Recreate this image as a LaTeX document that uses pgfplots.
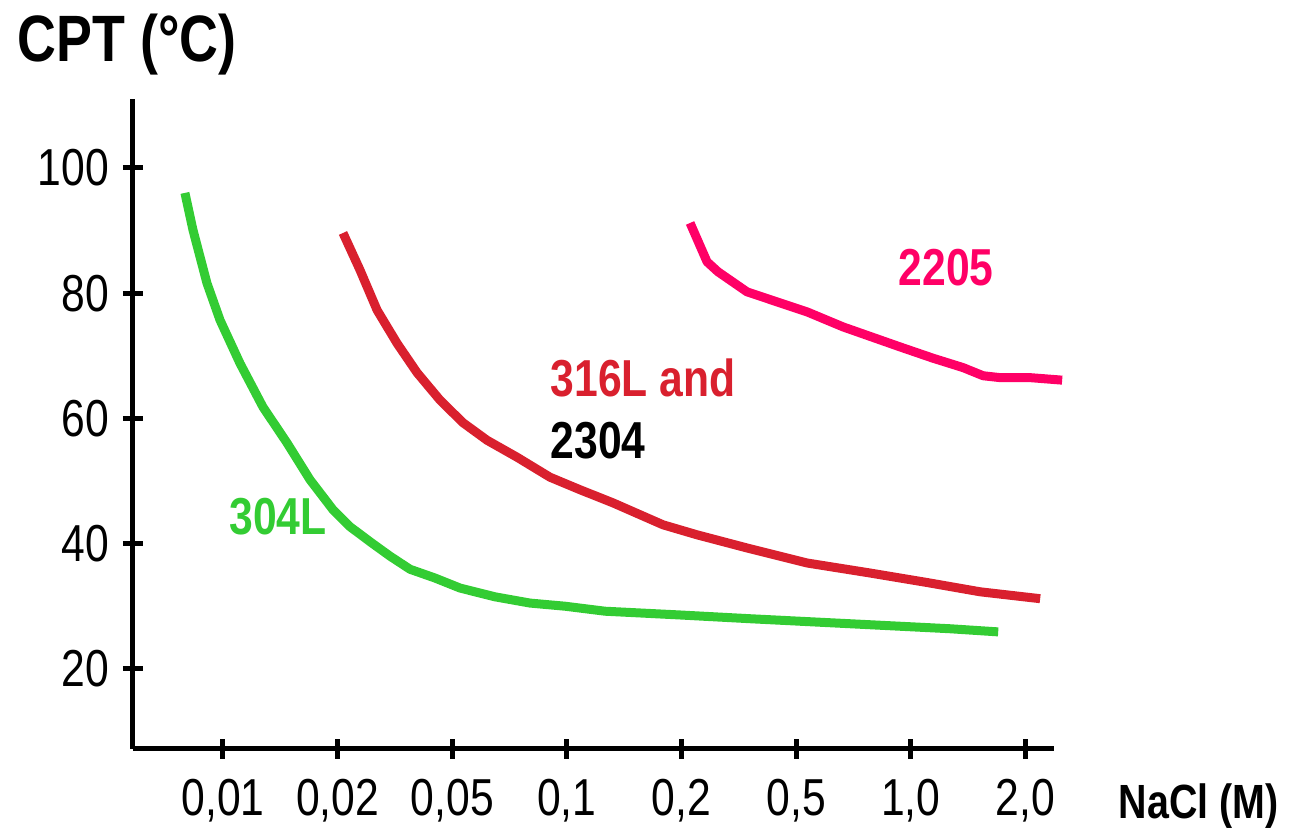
\documentclass[border=0pt]{standalone}
\usepackage{fontspec}
\setmainfont{Liberation Sans}[FakeStretch=0.82]
\usepackage{pgfplots}
\pgfplotsset{compat=1.18}
\definecolor{cgreen}{HTML}{33CC33}
\definecolor{cred}{HTML}{D9202E}
\definecolor{cpink}{HTML}{FF0066}
\begin{document}
\begin{tikzpicture}
\begin{axis}[
  at={(0,0)}, anchor=south west,
  scale only axis, width=230.25pt, height=162.5pt,
  xmin=-0.785, xmax=7.25, ymin=7.2, ymax=111,
  axis x line=bottom, axis y line=left,
  axis line style={line width=1.25pt, -},
  xtick={0,1,2,3,4,5,6,7},
  xticklabels={{0,01},{0,02},{0,05},{0,1},{0,2},{0,5},{1,0},{2,0}},
  ytick={20,40,60,80,100},
  yticklabels={20,40,60,80,100},
  tick align=center, major tick length=5pt,
  tick style={line width=1.25pt, black},
  ticklabel style={font=\fontsize{13}{15}\selectfont},
  xticklabel style={yshift=-1.5pt},
  clip=false,
  every axis plot/.append style={line width=2.25pt, line join=round, line cap=butt},
]
\addplot[cgreen] coordinates {
(-0.332,96.0) (-0.262,90.1) (-0.140,81.6) (-0.026,75.7) (0.148,68.8) (0.349,61.8)
(0.558,56.1) (0.759,50.2) (0.960,45.4) (1.108,42.7) (1.283,40.3) (1.457,38.0)
(1.632,35.9) (1.850,34.5) (2.068,32.9) (2.373,31.5) (2.679,30.5) (2.984,30.0)
(3.333,29.2) (3.988,28.6) (4.599,28.0) (5.471,27.2) (6.344,26.4) (6.763,25.9)
};
\addplot[cred] coordinates {
(1.047,89.6) (1.195,83.7) (1.344,77.3) (1.518,72.0) (1.693,67.3) (1.894,62.9)
(2.094,59.3) (2.304,56.5) (2.565,53.8) (2.853,50.6) (3.115,48.6) (3.403,46.5)
(3.839,43.0) (4.136,41.4) (4.572,39.3) (5.096,36.9) (5.646,35.3) (6.169,33.7)
(6.606,32.3) (7.129,31.2)
};
\addplot[cpink] coordinates {
(4.075,91.2) (4.223,85.0) (4.319,83.4) (4.572,80.2) (5.096,77.0) (5.410,74.6)
(5.908,71.4) (6.195,69.6) (6.457,68.1) (6.632,66.8) (6.780,66.5) (7.042,66.5)
(7.321,66.1)
};
\node[font=\fontsize{13}{15}\selectfont\bfseries, text=cpink, inner sep=0pt] at (axis cs:6.309,84.0) {2205};
\node[font=\fontsize{13}{15}\selectfont\bfseries, text=cred, inner sep=0pt, anchor=west] at (axis cs:2.853,66.45) {316L and};
\node[font=\fontsize{13}{15}\selectfont\bfseries, text=black, inner sep=0pt, anchor=west] at (axis cs:2.853,56.4) {2304};
\node[font=\fontsize{13}{15}\selectfont\bfseries, text=cgreen, inner sep=0pt] at (axis cs:0.480,44.25) {304L};
\end{axis}
\node[font=\fontsize{16.4}{18}\selectfont\bfseries, inner sep=0pt, anchor=base west] at (-29pt,171.75pt) {CPT (°C)};
\node[font=\fontsize{12}{14}\selectfont\bfseries, inner sep=0pt, anchor=base west] at (246.25pt,-17.5pt) {NaCl (M)};
\pgfresetboundingbox
\path[use as bounding box] (-33.25pt,-20.25pt) rectangle (290.25pt,187.25pt);
\end{tikzpicture}
\end{document}
